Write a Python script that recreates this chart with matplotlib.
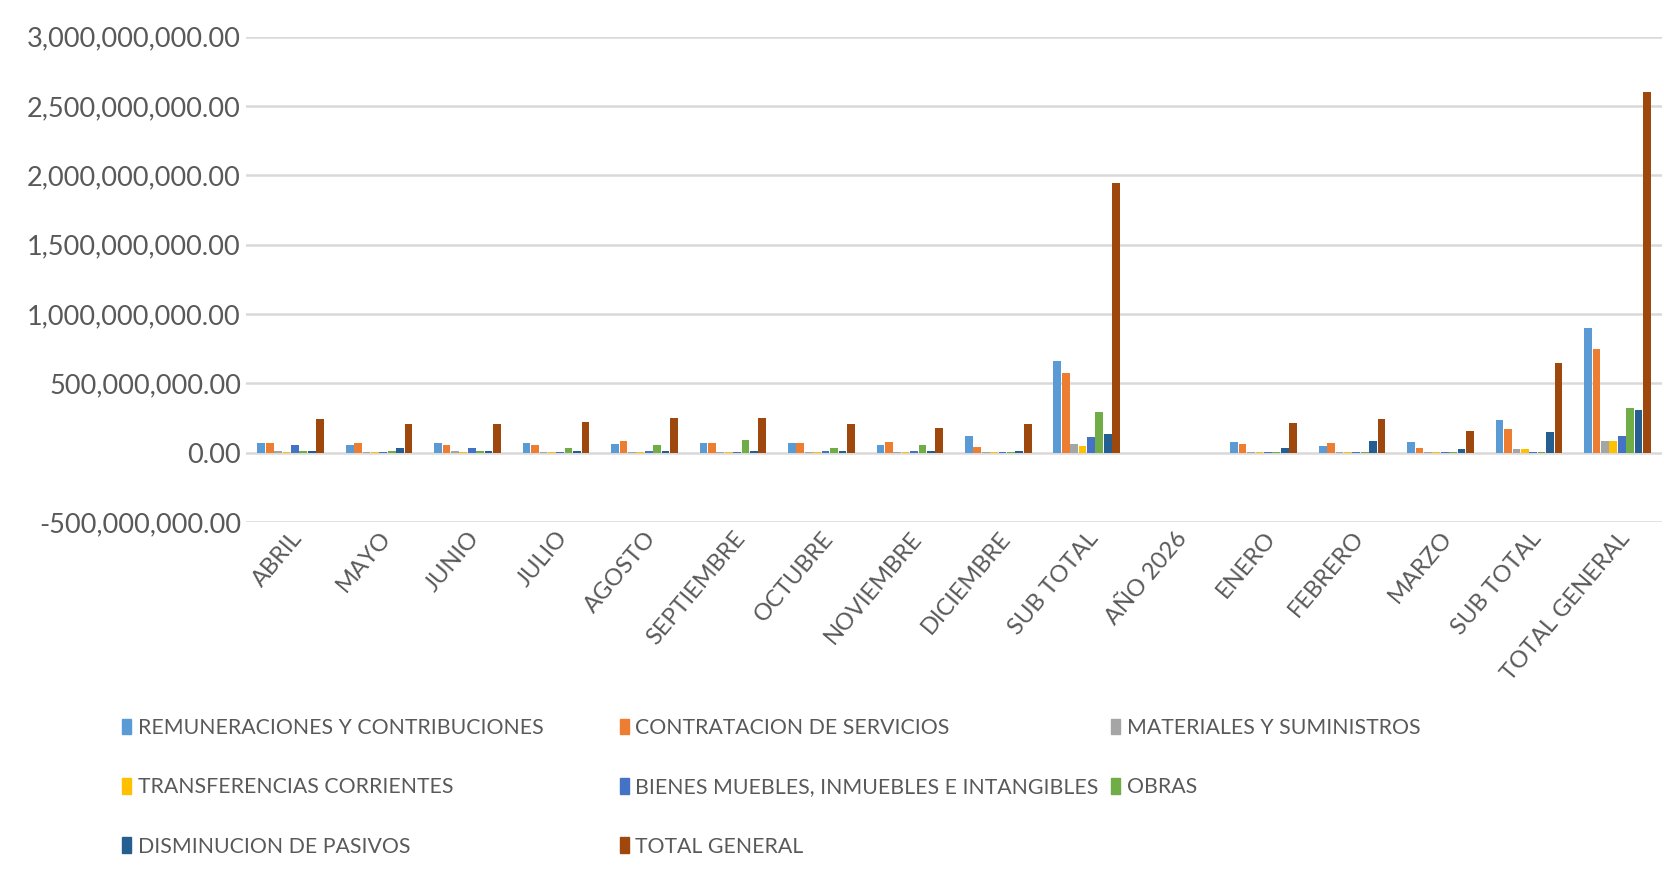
import numpy as np
import matplotlib.pyplot as plt
from matplotlib.patches import Patch
from matplotlib.ticker import FuncFormatter

# categories on x axis
meses = ["ABRIL", "MAYO", "JUNIO", "JULIO", "AGOSTO", "SEPTIEMBRE", "OCTUBRE",
         "NOVIEMBRE", "DICIEMBRE", "SUB TOTAL", "AÑO 2026", "ENERO", "FEBRERO",
         "MARZO", "SUB TOTAL ", "TOTAL GENERAL"]

# values in millions
remuneraciones = [72, 55, 72, 72, 65, 72, 72, 55, 122, 664, 0, 80, 48, 80, 233, 900]
contratacion = [72, 72, 55, 55, 88, 72, 72, 80, 43, 575, 0, 65, 72, 36, 172, 750]
materiales = [10, 8, 10, 5, 5, 5, 5, 5, 5, 60, 0, 5, 5, 5, 25, 86]
transferencias = [5, 3, 3, 3, 5, 3, 3, 3, 3, 48, 0, 3, 8, 5, 30, 86]
bienes = [55, 8, 37, 8, 10, 8, 10, 10, 8, 113, 0, 8, 5, 5, 5, 118]
obras = [10, 10, 10, 37, 55, 91, 37, 55, 8, 296, 0, 8, 5, 5, 5, 323]
disminucion = [10, 37, 10, 10, 10, 10, 10, 10, 10, 133, 0, 31, 84, 30, 152, 306]
total_general = [240, 205, 205, 222, 251, 251, 205, 181, 205, 1947, 0, 212, 246, 154, 650, 2605]

series = [
    ("REMUNERACIONES Y CONTRIBUCIONES", remuneraciones, "#5B9BD5"),
    ("CONTRATACION DE SERVICIOS", contratacion, "#ED7D31"),
    ("MATERIALES Y SUMINISTROS", materiales, "#A5A5A5"),
    ("TRANSFERENCIAS CORRIENTES", transferencias, "#FFC000"),
    ("BIENES MUEBLES, INMUEBLES E INTANGIBLES", bienes, "#4472C4"),
    ("OBRAS", obras, "#70AD47"),
    ("DISMINUCION DE PASIVOS", disminucion, "#255E91"),
    ("TOTAL GENERAL", total_general, "#9E480E"),
]

plt.rcParams["font.family"] = ["Lato", "DejaVu Sans"]
text_color = "#595959"

fig = plt.figure(figsize=(16.65, 8.76), dpi=100)
ax = fig.add_axes([0.148, 0.404, 0.850, 0.554])

x = np.arange(len(meses))
w = 0.095
n = len(series)
handles = []
for i, (name, vals, color) in enumerate(series):
    offs = (i - (n - 1) / 2) * w
    ax.bar(x + offs, np.array(vals) * 1e6, width=w * 0.92, color=color, zorder=3)
    handles.append(Patch(color=color, label=name))

ax.set_xlim(-0.5, len(meses) - 0.5)
ax.set_ylim(-500e6, 3000e6)
ax.set_yticks(np.arange(-500e6, 3000e6 + 1, 500e6))
ax.yaxis.set_major_formatter(FuncFormatter(lambda v, p: f"{v:,.2f}"))
ax.grid(axis="y", color="#D9D9D9", linewidth=1.8, zorder=0)
for s in ax.spines.values():
    s.set_visible(False)
ax.tick_params(axis="y", length=0, labelsize=19.5, labelcolor=text_color, pad=4)
ax.tick_params(axis="x", length=0, labelsize=17, labelcolor=text_color, pad=4)
ax.set_xticks(x)
ax.set_xticklabels([m.strip() for m in meses], rotation=50, ha="right",
                   va="top", rotation_mode="anchor")

# legend laid out as three columns, row by row like the original
cols = [[0, 3, 6], [1, 4, 7], [2, 5]]
col_x = [0.068, 0.367, 0.662]
for cx, idx in zip(col_x, cols):
    fig.legend(handles=[handles[k] for k in idx], loc="upper left",
               bbox_to_anchor=(cx, 0.19), frameon=False,
               fontsize=15.3, labelcolor=text_color, handlelength=0.45,
               handleheight=0.75, handletextpad=0.3, labelspacing=1.85,
               borderaxespad=0)

fig.savefig("out.png", dpi=100, facecolor="white")
